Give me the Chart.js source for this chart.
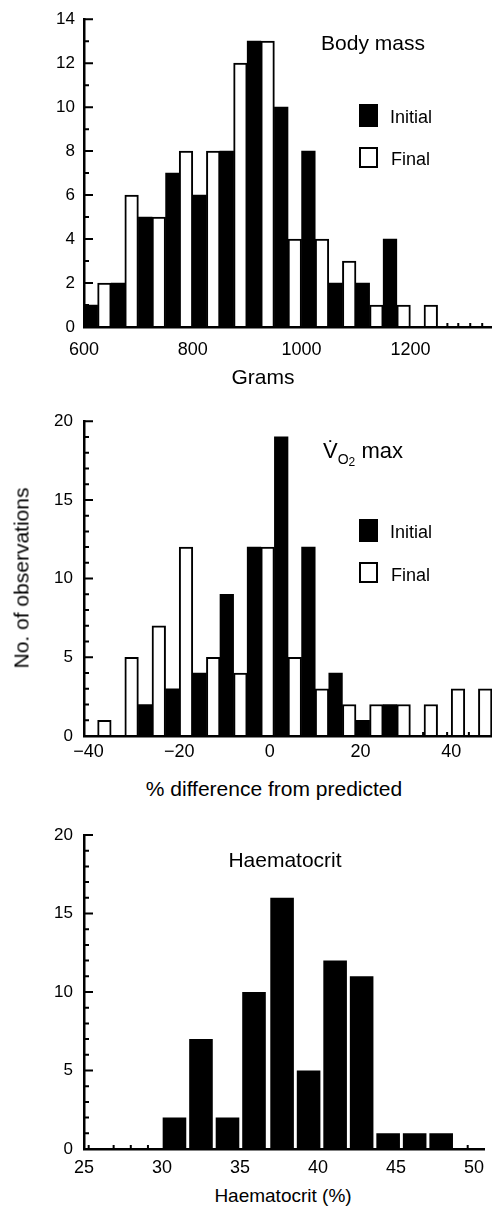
<!DOCTYPE html>
<html>
<head>
<meta charset="utf-8">
<script src="https://cdn.jsdelivr.net/npm/chart.js@4.4.0/dist/chart.umd.min.js"></script>
<style>
  html, body { margin: 0; padding: 0; background: #fff; }
  #page { position: relative; width: 492px; height: 1206px; overflow: hidden;
          font-family: 'Liberation Sans', Arial, sans-serif; color: #000; }
  canvas { position: absolute; left: 0; }
  .t { position: absolute; white-space: nowrap; line-height: 1; transform: translate(-50%, -50%); }
  .l { position: absolute; white-space: nowrap; line-height: 1; transform: translateY(-50%); font-size: 18px; }
  .box { position: absolute; width: 19px; box-sizing: border-box; }
</style>
</head>
<body>
<div id="page">
  <canvas id="mass" width="492" height="370" style="top:0px"></canvas>
  <canvas id="vo2" width="492" height="370" style="top:400px"></canvas>
  <canvas id="hct" width="492" height="380" style="top:800px"></canvas>

  <!-- panel 1 -->
  <div class="t" style="left:373px; top:42px; font-size:21px">Body mass</div>
  <div class="box" style="left:359px; top:104px; height:23px; background:#000"></div>
  <div class="l" style="left:390px; top:117px">Initial</div>
  <div class="box" style="left:359px; top:147px; height:21px; border:2px solid #000; background:#fff"></div>
  <div class="l" style="left:391px; top:159px">Final</div>
  <div class="t" style="left:263px; top:376px; font-size:21px">Grams</div>

  <!-- panel 2 -->
  <div class="l" style="left:323px; top:451px; font-size:22px">V&#775;<span style="font-size:14px; position:relative; top:6px">O<span style="font-size:12px; position:relative; top:2px">2</span></span> max</div>
  <div class="box" style="left:359px; top:519px; height:23px; background:#000"></div>
  <div class="l" style="left:390px; top:532px">Initial</div>
  <div class="box" style="left:359px; top:562px; height:21px; border:2px solid #000; background:#fff"></div>
  <div class="l" style="left:391px; top:575px">Final</div>
  <div class="t" style="left:21px; top:578px; font-size:21px; transform:translate(-50%, -50%) rotate(-90deg)">No. of observations</div>
  <div class="t" style="left:274px; top:788px; font-size:21px">% difference from predicted</div>

  <!-- panel 3 -->
  <div class="t" style="left:285px; top:859px; font-size:21px">Haematocrit</div>
  <div class="t" style="left:283px; top:1195px; font-size:19px">Haematocrit (%)</div>
</div>

<script>
// Body mass, grams (50 g bins, given by centre)
const massBins    = [625, 675, 725, 775, 825, 875, 925, 975, 1025, 1075, 1125, 1175, 1225];
const massInitial = [1, 2, 5, 7, 6, 8, 13, 10, 8, 2, 2, 4, 0];
const massFinal   = [2, 6, 5, 8, 8, 12, 13, 4, 4, 3, 1, 1, 1];
const massTicks   = [600, 800, 1000, 1200];
const massStubs   = [1268, 1288, 1310, 1332];

// VO2 max, % difference from predicted
const vo2Bins    = [-38, -32, -26, -20, -14, -8, -2, 4, 10, 16, 22, 28, 34, 40, 46];
const vo2Initial = [0, 0, 2, 3, 4, 9, 12, 19, 12, 4, 1, 2, 0, 0, 0];
const vo2Final   = [1, 5, 7, 12, 5, 4, 12, 5, 3, 2, 2, 2, 2, 3, 3];
const vo2Ticks   = [-40, -20, 0, 20, 40];
const vo2Stubs   = [33.8, 39.1, 43.9];

// Haematocrit, %
const hctBins   = [30.8, 32.5, 34.2, 35.9, 37.7, 39.4, 41.1, 42.8, 44.5, 46.2, 47.9];
const hctCounts = [2, 7, 2, 10, 16, 5, 12, 11, 1, 1, 1];
const hctTicks  = [25, 30, 35, 40, 45, 50];
const hctStubs  = [25.3, 26.9, 28.0, 29.1, 49.6];

Chart.defaults.font.family = "'Liberation Sans', Arial, sans-serif";
Chart.defaults.color = '#000';

// tick marks pointing into the plot, long ones at labelled values
const tickMarks = {
    id: 'tickMarks',
    afterDraw(chart, args, opts) {
        const { ctx, chartArea: a, scales: { x, y } } = chart;
        ctx.save();
        ctx.strokeStyle = '#000';
        ctx.lineWidth = 2;
        ctx.beginPath();
        y.ticks.forEach(t => {
            const py = y.getPixelForValue(t.value);
            const len = t.value % opts.major === 0 ? 9 : 5;
            ctx.moveTo(a.left, py);
            ctx.lineTo(a.left + len, py);
        });
        (opts.stubs || []).forEach(v => {
            const px = x.getPixelForValue(v);
            ctx.moveTo(px, a.bottom);
            ctx.lineTo(px, a.bottom - 4);
        });
        ctx.stroke();
        ctx.restore();
    }
};

const pts = (xs, ys) => xs.map((v, i) => ({ x: v, y: ys[i] }));
const minus = v => (v < 0 ? '\u2212' + Math.abs(v) : String(v));

function histogram(id, c) {
    return new Chart(document.getElementById(id), {
        type: 'bar',
        data: { datasets: c.datasets },
        options: {
            responsive: false,
            animation: false,
            layout: { padding: c.padding },
            datasets: { bar: { categoryPercentage: 1, barPercentage: c.barPct } },
            plugins: {
                legend: { display: false },
                tooltip: { enabled: false },
                tickMarks: { major: c.major, stubs: c.stubs }
            },
            scales: {
                x: {
                    type: 'linear',
                    min: c.xMin,
                    max: c.xMax,
                    offset: false,
                    grid: { display: false, drawTicks: false },
                    border: { display: true, color: '#000', width: 2.5, z: 1 },
                    afterBuildTicks: s => { s.ticks = c.xTicks.map(v => ({ value: v })); },
                    afterFit: s => { s.height = c.xHeight; },
                    ticks: { padding: c.xPad, autoSkip: false, maxRotation: 0,
                             font: { size: 18, lineHeight: 1.2 }, callback: v => minus(v) }
                },
                y: {
                    min: 0,
                    max: c.yMax,
                    grid: { display: false, drawTicks: false },
                    border: { display: true, color: '#000', width: 2.5, z: 1 },
                    afterFit: s => { s.width = 84; },
                    ticks: { stepSize: 1, autoSkip: false, padding: c.yPad,
                             font: { size: 17, lineHeight: 1.2 },
                             callback: v => (v % c.major === 0 ? String(v) : '') }
                }
            }
        },
        plugins: [tickMarks]
    });
}

const initialStyle = { backgroundColor: '#000', borderColor: '#000', borderWidth: 0 };
const finalStyle = { backgroundColor: '#fff', borderColor: '#000', borderWidth: 2 };

histogram('mass', {
    datasets: [
        { label: 'Initial', data: pts(massBins, massInitial), ...initialStyle },
        { label: 'Final', data: pts(massBins, massFinal), ...finalStyle }
    ],
    padding: { top: 14, right: 0, bottom: 0, left: 0 },
    barPct: 1, major: 2, stubs: massStubs,
    xMin: 600, xMax: 1350, xTicks: massTicks, xHeight: 43, xPad: 12,
    yMax: 14, yPad: 9
});

histogram('vo2', {
    datasets: [
        { label: 'Initial', data: pts(vo2Bins, vo2Initial), ...initialStyle },
        { label: 'Final', data: pts(vo2Bins, vo2Final), ...finalStyle }
    ],
    padding: { top: 21, right: 0, bottom: 0, left: 0 },
    barPct: 1, major: 5, stubs: vo2Stubs,
    xMin: -41, xMax: 49, xTicks: vo2Ticks, xHeight: 34, xPad: 5,
    yMax: 20, yPad: 11
});

histogram('hct', {
    datasets: [
        { label: 'Haematocrit', data: pts(hctBins, hctCounts), ...initialStyle }
    ],
    padding: { top: 35, right: 2, bottom: 0, left: 0 },
    barPct: 0.89, major: 5, stubs: hctStubs,
    xMin: 25, xMax: 50.7, xTicks: hctTicks, xHeight: 31, xPad: 8,
    yMax: 20, yPad: 11
});
</script>
</body>
</html>
